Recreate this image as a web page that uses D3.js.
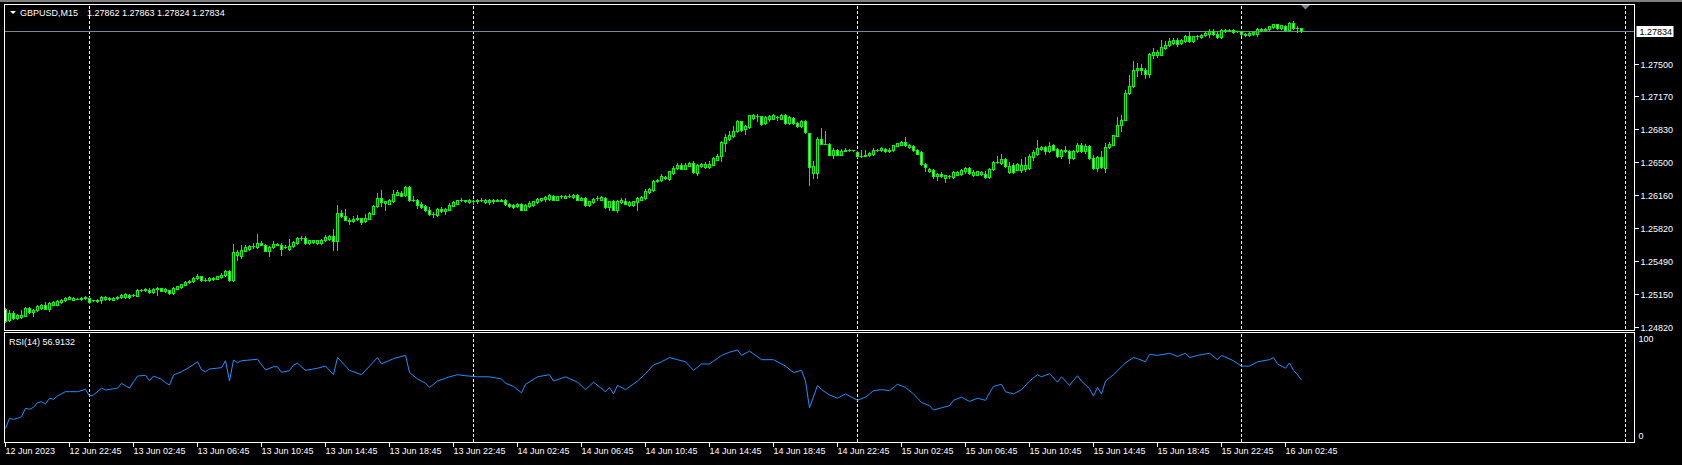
<!DOCTYPE html>
<html><head><meta charset="utf-8">
<script src="https://cdn.jsdelivr.net/npm/d3@7"></script>
<style>
html,body{margin:0;padding:0;background:#000;overflow:hidden}
svg{display:block}
text{font-family:"Liberation Sans",Arial,sans-serif;font-size:9px;fill:#fff}
</style></head><body>
<svg id="c" width="1682" height="465"></svg>
<script>
const symbolLabel = "GBPUSD,M15";
const headerOHLC = "1.27862 1.27863 1.27824 1.27834";
const rsiLabel = "RSI(14) 56.9132";
const lastPrice = 1.27834;

const opens = [
1.25000,1.24884,1.24959,1.24908,1.24915,1.24932,1.25010,1.24966,1.24993,1.25010,
1.25044,1.25003,1.25044,1.25044,1.25068,1.25088,1.25105,1.25095,1.25105,1.25102,
1.25109,1.25112,1.25088,1.25075,1.25092,1.25102,1.25102,1.25095,1.25112,1.25119,
1.25122,1.25146,1.25143,1.25136,1.25194,1.25190,1.25197,1.25173,1.25204,1.25211,
1.25180,1.25190,1.25163,1.25207,1.25224,1.25248,1.25272,1.25282,1.25316,1.25333,
1.25299,1.25292,1.25306,1.25309,1.25323,1.25343,1.25391,1.25292,1.25551,1.25537,
1.25595,1.25612,1.25636,1.25632,1.25673,1.25656,1.25588,1.25632,1.25656,1.25656,
1.25632,1.25612,1.25639,1.25673,1.25724,1.25724,1.25673,1.25680,1.25673,1.25673,
1.25700,1.25714,1.25748,1.25690,
1.25979,1.25945,1.25911,1.25894,1.25918,1.25925,1.25894,1.25921,1.25972,1.26047,
1.26132,1.26081,1.26074,1.26098,1.26166,1.26183,1.26159,1.26241,1.26108,1.26115,
1.26074,1.26054,1.26013,1.25972,1.25962,1.26023,1.25993,1.26013,1.26054,1.26074,
1.26108,1.26095,1.26088,1.26105,1.26098,1.26115,1.26088,1.26088,1.26098,1.26101,
1.26101,1.26108,1.26074,1.26061,1.26047,1.26071,1.26013,1.26054,1.26061,1.26088,
1.26108,1.26122,1.26122,1.26156,1.26115,1.26149,1.26135,1.26156,1.26142,1.26163,
1.26115,1.26132,1.26061,1.26088,1.26132,1.26115,1.26132,1.26040,1.26095,1.26013,
1.26091,1.26105,1.26061,1.26064,1.26088,1.26115,1.26129,1.26190,1.26210,1.26299,
1.26312,1.26333,1.26326,
1.26387,1.26438,1.26472,1.26431,1.26462,1.26489,1.26387,1.26455,1.26445,1.26445,
1.26472,1.26523,1.26557,1.26690,1.26734,1.26761,1.26812,1.26914,1.26832,1.26856,
1.26948,1.26965,1.26962,1.26897,1.26941,1.26941,1.26955,1.26941,1.26982,1.26897,
1.26948,1.26897,1.26863,1.26921,1.26795,1.26384,1.26384,1.26737,1.26686,1.26686,
1.26574,1.26625,1.26574,1.26615,1.26625,1.26618,1.26601,1.26557,1.26564,1.26567,
1.26581,1.26625,1.26622,1.26635,1.26615,1.26618,1.26662,1.26676,1.26703,1.26652,
1.26666,1.26625,1.26598,1.26482,1.26404,1.26421,1.26353,1.26380,1.26336,1.26353,
1.26343,1.26370,1.26377,1.26411,1.26438,1.26363,1.26370,
1.26377,1.26380,1.26346,1.26428,1.26496,1.26489,1.26530,1.26394,1.26472,1.26421,
1.26421,1.26428,1.26438,1.26550,1.26584,1.26635,1.26652,1.26608,1.26669,1.26635,
1.26564,1.26608,1.26615,1.26540,1.26608,1.26676,1.26608,1.26666,1.26540,1.26438,
1.26550,1.26438,1.26652,1.26676,1.26768,1.26880,1.26931,1.27203,1.27271,1.27434,
1.27458,1.27441,1.27400,1.27587,1.27594,1.27594,1.27662,1.27689,1.27713,1.27747,
1.27710,1.27730,1.27788,1.27727,1.27781,1.27774,1.27791,1.27805,1.27832,1.27808,
1.27774,1.27832,1.27846,1.27846,1.27832,1.27829,1.27795,1.27795,1.27801,1.27801,
1.27842,1.27842,1.27856,1.27876,1.27903,1.27866,1.27890,1.27842,1.27917,1.27866,
1.27862];

const highs = [
1.25010,1.24986,1.24973,1.24945,1.24986,1.25020,1.25020,1.25003,1.25041,1.25054,
1.25071,1.25068,1.25078,1.25088,1.25102,1.25122,1.25126,1.25119,1.25115,1.25119,
1.25132,1.25119,1.25095,1.25102,1.25129,1.25129,1.25122,1.25122,1.25129,1.25149,
1.25163,1.25156,1.25153,1.25200,1.25207,1.25211,1.25211,1.25214,1.25224,1.25217,
1.25211,1.25197,1.25224,1.25238,1.25258,1.25282,1.25299,1.25326,1.25360,1.25340,
1.25313,1.25326,1.25323,1.25340,1.25367,1.25401,1.25401,1.25666,1.25598,1.25656,
1.25656,1.25656,1.25673,1.25768,1.25690,1.25666,1.25646,1.25690,1.25673,1.25673,
1.25656,1.25714,1.25690,1.25734,1.25748,1.25741,1.25707,1.25707,1.25707,1.25714,
1.25755,1.25758,1.25816,1.26064,
1.26013,1.26020,1.25928,1.25952,1.25962,1.25931,1.25972,1.25986,1.26061,1.26183,
1.26217,1.26105,1.26122,1.26217,1.26210,1.26200,1.26251,1.26251,1.26156,1.26122,
1.26088,1.26064,1.26040,1.25986,1.26030,1.26040,1.26030,1.26081,1.26098,1.26115,
1.26129,1.26115,1.26122,1.26115,1.26122,1.26129,1.26122,1.26122,1.26122,1.26118,
1.26118,1.26122,1.26081,1.26067,1.26078,1.26081,1.26071,1.26095,1.26105,1.26129,
1.26135,1.26156,1.26176,1.26166,1.26156,1.26163,1.26166,1.26169,1.26169,1.26169,
1.26139,1.26139,1.26101,1.26132,1.26156,1.26146,1.26139,1.26101,1.26115,1.26115,
1.26129,1.26132,1.26095,1.26101,1.26142,1.26156,1.26224,1.26234,1.26319,1.26326,
1.26380,1.26360,1.26407,
1.26455,1.26489,1.26489,1.26489,1.26499,1.26506,1.26479,1.26492,1.26499,1.26506,
1.26547,1.26581,1.26717,1.26785,1.26812,1.26863,1.26931,1.26921,1.26873,1.26982,
1.26992,1.26989,1.26968,1.26965,1.26982,1.26989,1.26968,1.26989,1.26989,1.26962,
1.26955,1.26904,1.26928,1.26928,1.26798,1.26506,1.26751,1.26846,1.26812,1.26693,
1.26642,1.26635,1.26632,1.26642,1.26635,1.26625,1.26608,1.26625,1.26625,1.26601,
1.26642,1.26635,1.26649,1.26642,1.26642,1.26676,1.26696,1.26710,1.26751,1.26683,
1.26676,1.26635,1.26608,1.26489,1.26438,1.26431,1.26387,1.26397,1.26370,1.26363,
1.26404,1.26404,1.26428,1.26445,1.26445,1.26421,1.26411,
1.26411,1.26404,1.26438,1.26506,1.26557,1.26584,1.26540,1.26496,1.26489,1.26489,
1.26530,1.26550,1.26584,1.26625,1.26727,1.26659,1.26666,1.26700,1.26686,1.26642,
1.26632,1.26659,1.26625,1.26625,1.26693,1.26693,1.26686,1.26673,1.26574,1.26564,
1.26608,1.26693,1.26700,1.26778,1.26958,1.26982,1.27230,1.27390,1.27526,1.27509,
1.27502,1.27458,1.27611,1.27662,1.27645,1.27740,1.27730,1.27764,1.27764,1.27764,
1.27754,1.27795,1.27832,1.27788,1.27798,1.27808,1.27832,1.27856,1.27856,1.27822,
1.27856,1.27852,1.27852,1.27852,1.27839,1.27835,1.27815,1.27825,1.27829,1.27866,
1.27866,1.27866,1.27886,1.27910,1.27910,1.27900,1.27897,1.27924,1.27941,1.27883,
1.27863];

const lows = [
1.24864,1.24874,1.24898,1.24898,1.24905,1.24925,1.24959,1.24925,1.24983,1.25003,
1.24996,1.24976,1.25037,1.25037,1.25061,1.25081,1.25098,1.25088,1.25098,1.25095,
1.25102,1.25061,1.25081,1.25068,1.25058,1.25095,1.25095,1.25088,1.25105,1.25112,
1.25115,1.25115,1.25136,1.25129,1.25187,1.25183,1.25163,1.25166,1.25143,1.25180,
1.25173,1.25156,1.25156,1.25200,1.25217,1.25241,1.25265,1.25275,1.25309,1.25285,
1.25285,1.25285,1.25299,1.25302,1.25316,1.25336,1.25285,1.25282,1.25496,1.25520,
1.25585,1.25605,1.25622,1.25622,1.25649,1.25588,1.25537,1.25625,1.25649,1.25554,
1.25619,1.25605,1.25632,1.25666,1.25707,1.25666,1.25663,1.25673,1.25663,1.25666,
1.25693,1.25707,1.25605,1.25605,
1.25938,1.25904,1.25870,1.25887,1.25911,1.25870,1.25887,1.25914,1.25965,1.26040,
1.26047,1.26013,1.26067,1.26091,1.26159,1.26149,1.26152,1.26101,1.26101,1.26030,
1.26030,1.25996,1.25962,1.25938,1.25945,1.25986,1.25972,1.26006,1.26047,1.26067,
1.26098,1.26088,1.26081,1.26074,1.26081,1.26095,1.26081,1.26067,1.26081,1.26098,
1.26098,1.26064,1.26040,1.26033,1.26040,1.26006,1.26006,1.26040,1.26054,1.26081,
1.26101,1.26098,1.26115,1.26108,1.26108,1.26132,1.26129,1.26142,1.26135,1.26108,
1.26108,1.26054,1.26054,1.26081,1.26108,1.26108,1.26033,1.26006,1.26006,1.25986,
1.26081,1.26067,1.26054,1.26054,1.26006,1.26108,1.26122,1.26183,1.26203,1.26292,
1.26305,1.26326,1.26319,
1.26380,1.26431,1.26424,1.26424,1.26455,1.26390,1.26370,1.26448,1.26438,1.26438,
1.26465,1.26516,1.26506,1.26608,1.26727,1.26754,1.26805,1.26819,1.26788,1.26849,
1.26941,1.26914,1.26880,1.26887,1.26914,1.26934,1.26931,1.26934,1.26890,1.26890,
1.26890,1.26856,1.26856,1.26798,1.26261,1.26336,1.26336,1.26679,1.26679,1.26567,
1.26540,1.26567,1.26567,1.26608,1.26615,1.26611,1.26550,1.26550,1.26557,1.26560,
1.26574,1.26615,1.26615,1.26601,1.26601,1.26611,1.26656,1.26669,1.26662,1.26645,
1.26611,1.26577,1.26472,1.26411,1.26397,1.26336,1.26319,1.26346,1.26295,1.26336,
1.26336,1.26363,1.26370,1.26387,1.26380,1.26356,1.26363,
1.26367,1.26336,1.26339,1.26421,1.26489,1.26482,1.26448,1.26384,1.26387,1.26414,
1.26394,1.26401,1.26428,1.26523,1.26574,1.26625,1.26584,1.26598,1.26618,1.26550,
1.26540,1.26598,1.26489,1.26530,1.26598,1.26598,1.26591,1.26530,1.26428,1.26404,
1.26438,1.26394,1.26642,1.26669,1.26761,1.26812,1.26924,1.27193,1.27264,1.27373,
1.27400,1.27356,1.27366,1.27560,1.27570,1.27587,1.27652,1.27679,1.27703,1.27679,
1.27703,1.27723,1.27723,1.27720,1.27754,1.27767,1.27784,1.27774,1.27798,1.27767,
1.27767,1.27825,1.27839,1.27818,1.27825,1.27798,1.27788,1.27788,1.27795,1.27781,
1.27835,1.27835,1.27849,1.27869,1.27859,1.27859,1.27835,1.27835,1.27859,1.27822,
1.27824];

const closes = [
1.24874,1.24959,1.24908,1.24935,1.24942,1.25010,1.24966,1.24993,1.25034,1.25044,
1.25003,1.25061,1.25068,1.25078,1.25095,1.25112,1.25119,1.25112,1.25105,1.25112,
1.25122,1.25068,1.25088,1.25095,1.25122,1.25122,1.25115,1.25115,1.25122,1.25143,
1.25149,1.25122,1.25146,1.25194,1.25197,1.25204,1.25170,1.25207,1.25217,1.25187,
1.25204,1.25163,1.25217,1.25231,1.25251,1.25275,1.25289,1.25319,1.25340,1.25292,
1.25299,1.25319,1.25316,1.25333,1.25350,1.25391,1.25292,1.25581,1.25578,1.25605,
1.25632,1.25639,1.25636,1.25673,1.25656,1.25595,1.25632,1.25663,1.25663,1.25612,
1.25632,1.25646,1.25680,1.25724,1.25724,1.25673,1.25700,1.25700,1.25700,1.25707,
1.25731,1.25748,1.25690,1.25979,
1.25945,1.25911,1.25894,1.25921,1.25925,1.25884,1.25928,1.25979,1.26054,1.26132,
1.26088,1.26098,1.26115,1.26176,1.26190,1.26156,1.26241,1.26108,1.26115,1.26064,
1.26040,1.26006,1.25972,1.25972,1.26023,1.25996,1.26023,1.26064,1.26088,1.26108,
1.26108,1.26108,1.26115,1.26105,1.26115,1.26115,1.26115,1.26115,1.26115,1.26115,
1.26115,1.26071,1.26047,1.26040,1.26071,1.26013,1.26064,1.26081,1.26098,1.26122,
1.26129,1.26142,1.26166,1.26115,1.26149,1.26149,1.26156,1.26156,1.26163,1.26115,
1.26132,1.26061,1.26095,1.26125,1.26132,1.26139,1.26040,1.26095,1.26013,1.26105,
1.26108,1.26074,1.26088,1.26095,1.26132,1.26139,1.26200,1.26224,1.26309,1.26319,
1.26353,1.26346,1.26401,
1.26438,1.26472,1.26431,1.26472,1.26489,1.26397,1.26472,1.26482,1.26482,1.26482,
1.26540,1.26564,1.26700,1.26751,1.26778,1.26819,1.26914,1.26829,1.26863,1.26975,
1.26975,1.26965,1.26887,1.26955,1.26972,1.26975,1.26955,1.26982,1.26897,1.26955,
1.26897,1.26863,1.26921,1.26805,1.26445,1.26455,1.26737,1.26686,1.26686,1.26574,
1.26625,1.26574,1.26615,1.26625,1.26625,1.26618,1.26557,1.26564,1.26567,1.26591,
1.26625,1.26625,1.26642,1.26608,1.26625,1.26669,1.26690,1.26703,1.26669,1.26676,
1.26618,1.26584,1.26479,1.26445,1.26431,1.26353,1.26380,1.26353,1.26363,1.26353,
1.26397,1.26397,1.26421,1.26438,1.26387,1.26394,1.26404,
1.26397,1.26346,1.26428,1.26499,1.26499,1.26530,1.26455,1.26462,1.26394,1.26479,
1.26472,1.26472,1.26557,1.26598,1.26642,1.26652,1.26608,1.26666,1.26625,1.26564,
1.26625,1.26622,1.26540,1.26615,1.26676,1.26608,1.26666,1.26540,1.26438,1.26550,
1.26445,1.26652,1.26686,1.26771,1.26880,1.26931,1.27203,1.27278,1.27441,1.27458,
1.27434,1.27400,1.27604,1.27618,1.27618,1.27672,1.27696,1.27730,1.27747,1.27706,
1.27740,1.27788,1.27730,1.27781,1.27781,1.27798,1.27815,1.27832,1.27805,1.27774,
1.27849,1.27846,1.27846,1.27825,1.27832,1.27805,1.27808,1.27818,1.27822,1.27859,
1.27859,1.27859,1.27880,1.27903,1.27866,1.27893,1.27842,1.27917,1.27866,1.27866,
1.27834];

// RSI(14) readings (bar index, value) taken from the lower panel
const rsiBars = [0,1,2,3,4,5,6,7,8,9,10,11,12,13,15,16,18,20,21,22,24,25,28,29,31,32,33,35,36,37,39,40,41,42,44,46,48,49,50,51,54,55,56,57,58,59,63,65,67,68,69,71,72,73,
75,78,80,82,83,85,86,89,91,93,94,97,100,101,103,105,106,108,111,113,115,118,121,124,125,127,129,130,133,136,137,140,143,145,147,150,151,152,153,155,158,160,162,164,166,168,170,172,174,176,179,181,183,184,186,189,192,195,197,199,200,201,203,204,206,208,210,213,215,217,219,221,223,225,227,229,231,232,234,236,237,239,241,243,245,246,247,249,250,252,254,256,258,259,261,263,264,266,268,269,271,272,273,274,275,277,280,282,283,285,286,288,291,293,295,296,298,301,303,304,307,309,311,313,316,317,318,320,321,322,323,324];
const rsiValues = [11.9,21.2,20.2,21.2,22.7,30.6,29.6,31.5,35.8,36.7,34.6,39.9,39.0,42.1,46.1,46.1,46.1,48.3,42.1,43.0,49.3,47.7,49.3,53.9,49.3,55.4,60.7,61.4,56.4,60.7,57.7,54.5,52.3,61.7,64.8,68.9,74.1,66.4,64.8,67.3,68.5,75.0,56.1,75.7,73.2,75.0,76.4,66.4,69.4,69.4,64.2,65.7,71.0,72.6,
66,68,70,62,78,70,66,62,70,78,72,77,80,64,58,54,50,56,60,62,61,60,60,58,54,51,45,53,60,62,56,60,55,48,55,46,50,44,52,48,56,63,71,74,78,76,74,66,72,72,80,83,85,80,84,76,76,70,64,66,56,31,52,48,43,40,44,38,41,47,48,47,53,50,44,36,33,29,31,33,38,41,37,40,38,45,51,53,46,44,48,56,62,60,63,55,60,52,61,56,49,42,50,44,56,62,73,78,77,74,81,80,82,79,82,78,80,82,76,80,75,70,70,74,76,78,72,68,73,66,62,56.9132];

const priceTicks = [1.27500,1.27170,1.26830,1.26500,1.26160,1.25820,1.25490,1.25150,1.24820];
const rsiScaleLabels = ["100","0"];
const timeLabels = ["12 Jun 2023","12 Jun 22:45","13 Jun 02:45","13 Jun 06:45","13 Jun 10:45","13 Jun 14:45","13 Jun 18:45","13 Jun 22:45","14 Jun 02:45","14 Jun 06:45","14 Jun 10:45","14 Jun 14:45","14 Jun 18:45","14 Jun 22:45","15 Jun 02:45","15 Jun 06:45","15 Jun 10:45","15 Jun 14:45","15 Jun 18:45","15 Jun 22:45","16 Jun 02:45"];
const timeLabelBars = [0,16,32,48,64,80,96,112,128,144,160,176,192,208,224,240,256,272,288,304,320];
const separatorBars = [21,117,213,309,405];

// ---------- drawing ----------
const svg = d3.select("#c");
const L = 4.5, R = 1634.5, mainTop = 4.5, mainBot = 330.5, rsiTop = 332.5, rsiBot = 442.5;
const x = d3.scaleLinear().domain([0, 1]).range([5.5, 9.5]);           // 4 px per bar
const y = d3.scaleLinear().domain([1.24820, 1.27834]).range([327, 31.5]);
const yr = d3.scaleLinear().domain([0, 100]).range([441, 334]);
const snap = v => Math.round(v - 0.5) + 0.5;

svg.append("rect").attr("width",1682).attr("height",465).attr("fill","#000");
svg.append("rect").attr("x",0).attr("y",0).attr("width",1682).attr("height",2).attr("fill","#7f7f7f");

const defs = svg.append("defs");
defs.append("clipPath").attr("id","cm").append("rect").attr("x",L).attr("y",mainTop).attr("width",R-L).attr("height",mainBot-mainTop);
defs.append("clipPath").attr("id","cr").append("rect").attr("x",L).attr("y",rsiTop).attr("width",R-L).attr("height",rsiBot-rsiTop);

// separators
const sep = svg.append("g").attr("stroke","#fff").attr("stroke-dasharray","3,2").attr("shape-rendering","crispEdges");
separatorBars.forEach(b => {
  sep.append("line").attr("x1",x(b)).attr("x2",x(b)).attr("y1",mainTop+1).attr("y2",mainBot);
  sep.append("line").attr("x1",x(b)).attr("x2",x(b)).attr("y1",rsiTop+1).attr("y2",rsiBot);
});

// bid line
svg.append("line").attr("x1",L).attr("x2",R).attr("y1",snap(y(lastPrice))).attr("y2",snap(y(lastPrice)))
  .attr("stroke","#778899").attr("shape-rendering","crispEdges");

// candles
const cg = svg.append("g").attr("clip-path","url(#cm)").attr("shape-rendering","crispEdges");
const bars = d3.range(closes.length).map(i => ({i, o:opens[i], h:highs[i], l:lows[i], c:closes[i]}));
cg.selectAll("line.w").data(bars).join("line").attr("class","w")
  .attr("x1",d=>x(d.i)).attr("x2",d=>x(d.i))
  .attr("y1",d=>snap(y(d.h))-0.5).attr("y2",d=>snap(y(d.l))+0.5)
  .attr("stroke","#00ff00");
bars.forEach(d => {
  const t = snap(y(Math.max(d.o,d.c))), b = snap(y(Math.min(d.o,d.c)));
  if (b - t < 1) {
    cg.append("line").attr("x1",x(d.i)-1.5).attr("x2",x(d.i)+1.5).attr("y1",t).attr("y2",t).attr("stroke","#00ff00");
  } else {
    cg.append("rect").attr("x",x(d.i)-1).attr("y",t).attr("width",2).attr("height",b-t)
      .attr("fill", d.c >= d.o ? "#000" : "#fff").attr("stroke","#00ff00");
  }
});

// RSI line
svg.append("path").attr("clip-path","url(#cr)")
  .datum(rsiBars.map((b,k)=>[x(b), yr(rsiValues[k])]))
  .attr("d", d3.line()).attr("fill","none").attr("stroke","#1e90ff").attr("stroke-width",1);

// frames
const fr = svg.append("g").attr("fill","none").attr("stroke","#fff").attr("shape-rendering","crispEdges");
fr.append("rect").attr("x",L).attr("y",mainTop).attr("width",R-L).attr("height",mainBot-mainTop);
fr.append("rect").attr("x",L).attr("y",rsiTop).attr("width",R-L).attr("height",rsiBot-rsiTop);

// price axis
const pa = svg.append("g");
priceTicks.forEach(p => {
  const yy = snap(y(p));
  pa.append("line").attr("x1",R).attr("x2",R+4).attr("y1",yy).attr("y2",yy).attr("stroke","#fff").attr("shape-rendering","crispEdges");
  pa.append("text").attr("x",R+6).attr("y",yy).attr("dy","0.35em").text(p.toFixed(5));
});
// current price box
const yb = snap(y(lastPrice));
pa.append("rect").attr("x",R+2).attr("y",yb-5.5).attr("width",37).attr("height",11).attr("fill","#fff");
pa.append("text").attr("x",R+5).attr("y",yb).attr("dy","0.35em").style("fill","#000").text(lastPrice.toFixed(5));
// chart shift marker
const mx = x(closes.length - 1) + 4;
svg.append("path").attr("d",`M${mx-4.5},5 L${mx+4.5},5 L${mx},9.5 Z`).attr("fill","#778899");

// RSI scale labels
svg.append("text").attr("x",R+4).attr("y",yr(100)+5).attr("dy","0.35em").text(rsiScaleLabels[0]);
svg.append("text").attr("x",R+4).attr("y",yr(0)-5.5).attr("dy","0.35em").text(rsiScaleLabels[1]);

// time axis
const ta = svg.append("g");
timeLabelBars.forEach((b,k) => {
  ta.append("line").attr("x1",x(b)).attr("x2",x(b)).attr("y1",rsiBot).attr("y2",rsiBot+4).attr("stroke","#fff").attr("shape-rendering","crispEdges");
  ta.append("text").attr("x",x(b)).attr("y",451).attr("dy","0.35em").text(timeLabels[k]);
});

// header
svg.append("path").attr("d","M10,11 L16,11 L13,14 Z").attr("fill","#fff");
svg.append("text").attr("x",20).attr("y",13).attr("dy","0.35em").text(symbolLabel);
svg.append("text").attr("x",87).attr("y",13).attr("dy","0.35em").text(headerOHLC);
svg.append("text").attr("x",9).attr("y",342).attr("dy","0.35em").text(rsiLabel);
</script>
</body></html>
